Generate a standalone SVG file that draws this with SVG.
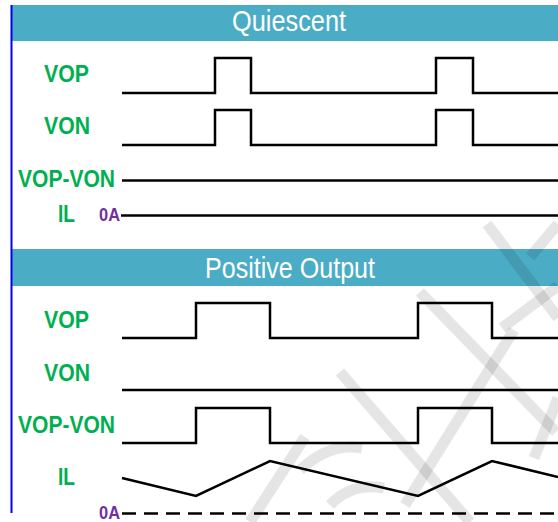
<svg xmlns="http://www.w3.org/2000/svg" width="558" height="522" viewBox="0 0 558 522">
<style>
.hdr{fill:#4BACC6}
.ht{font-family:"Liberation Sans",Arial,sans-serif;font-size:29px;fill:#fff}
.lb{font-family:"Liberation Sans",Arial,sans-serif;font-size:23px;font-weight:bold;fill:#00B050}
.za{font-family:"Liberation Sans",Arial,sans-serif;font-size:18px;font-weight:bold;fill:#7030A0}
.w{fill:none;stroke:#000;stroke-width:2.5;stroke-linejoin:miter}
.wm{fill:none;stroke:#000;stroke-opacity:0.1;stroke-width:11;stroke-linecap:butt}
</style>
<rect width="558" height="522" fill="#fff"/>
<g id="header-quiescent">
<rect class="hdr" x="12" y="5" width="546" height="36"/>
<text class="ht" x="232" y="31" textLength="114" lengthAdjust="spacingAndGlyphs">Quiescent</text>
</g>
<g id="header-positive">
<rect class="hdr" x="12" y="249" width="546" height="37"/>
<text class="ht" x="205" y="278" textLength="170" lengthAdjust="spacingAndGlyphs">Positive Output</text>
</g>
<line id="left-rule" x1="11.5" y1="5" x2="11.5" y2="513" stroke="#0000FF" stroke-width="2"/>
<g id="labels-quiescent">
<text class="lb" x="44" y="82" textLength="45" lengthAdjust="spacingAndGlyphs">VOP</text>
<text class="lb" x="44" y="134" textLength="46" lengthAdjust="spacingAndGlyphs">VON</text>
<text class="lb" x="18" y="187" textLength="97" lengthAdjust="spacingAndGlyphs">VOP-VON</text>
<text class="lb" x="58" y="222" textLength="17" lengthAdjust="spacingAndGlyphs">IL</text>
<text class="za" x="99" y="221" textLength="21" lengthAdjust="spacingAndGlyphs">0A</text>
</g>
<g id="labels-positive">
<text class="lb" x="44" y="328" textLength="45" lengthAdjust="spacingAndGlyphs">VOP</text>
<text class="lb" x="44" y="381" textLength="46" lengthAdjust="spacingAndGlyphs">VON</text>
<text class="lb" x="18" y="433" textLength="97" lengthAdjust="spacingAndGlyphs">VOP-VON</text>
<text class="lb" x="58" y="485" textLength="17" lengthAdjust="spacingAndGlyphs">IL</text>
<text class="za" x="99" y="519" textLength="21" lengthAdjust="spacingAndGlyphs">0A</text>
</g>
<g id="waveforms">
<path class="w" d="M122,93 H215 V58 H251 V93 H436 V58 H473 V93 H558"/>
<path class="w" d="M122,145 H215 V110 H251 V145 H436 V110 H473 V145 H558"/>
<path class="w" d="M122,180.5 H558"/>
<path class="w" d="M121,215.5 H558"/>
<path class="w" d="M122,338 H196 V303 H270 V338 H418 V303 H492 V338 H558"/>
<path class="w" d="M122,390 H558"/>
<path class="w" d="M122,443 H196 V408 H270 V443 H418 V408 H492 V443 H558"/>
<path class="w" d="M122,478 L196,496 L270,461 L418,496 L492,461 L558,477"/>
<path class="w" d="M122,513.5 H558" stroke-width="2" stroke-dasharray="14 8"/>
</g>
<g id="watermark">
<path class="wm" d="M487,224 L558,318"/>
<path class="wm" d="M530,257 L558,224"/>
<path class="wm" d="M558,286 L502,328"/>
<path class="wm" d="M420,292 L556,432"/>
<path class="wm" d="M514,330 L405,505"/>
<path class="wm" d="M340,372 L470,522"/>
<path class="wm" d="M305,437 L250,522"/>
<path class="wm" d="M300,470 Q330,442 362,448"/>
<path class="wm" d="M330,505 Q352,482 384,488"/>
<path class="wm" d="M558,398 L534,458"/>
</g>
</svg>
